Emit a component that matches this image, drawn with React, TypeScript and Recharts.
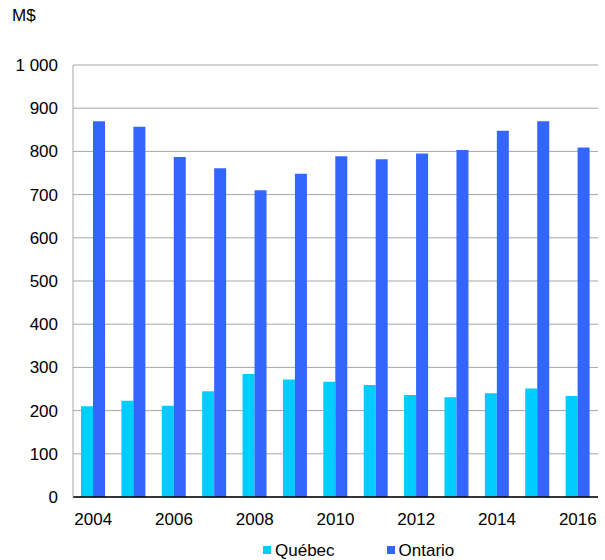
import React from "react";
import { BarChart, Bar, XAxis, YAxis, CartesianGrid, Legend } from "recharts";

const years = ["2004", "2005", "2006", "2007", "2008", "2009", "2010", "2011", "2012", "2013", "2014", "2015", "2016"];
const quebec = [210, 223, 211, 245, 285, 272, 267, 259, 236, 231, 240, 251, 234];
const ontario = [870, 857, 787, 761, 710, 748, 789, 782, 795, 803, 848, 870, 809];
const yTicks = [0, 100, 200, 300, 400, 500, 600, 700, 800, 900, 1000];

const series = [
    { key: "quebec", name: "Québec", color: "#00CCFF" },
    { key: "ontario", name: "Ontario", color: "#3366FF" },
];

const data = years.map((year, i) => ({ year, quebec: quebec[i], ontario: ontario[i] }));

const FONT = "'Liberation Sans', Arial, sans-serif";

const fmt = (v: number) => (v >= 1000 ? `${Math.floor(v / 1000)}\u00a0${String(v % 1000).padStart(3, "0")}` : String(v));

const LegendContent = () => (
    <div style={{ height: 33, paddingTop: 13, boxSizing: "border-box", display: "flex", alignItems: "center", fontFamily: FONT, fontSize: 17, lineHeight: "17px", color: "#000" }}>
        {series.map((s, i) => (
            <div key={s.key} style={{ display: "flex", alignItems: "center", marginLeft: i === 0 ? 263 : 52 }}>
                <span style={{ width: 8, height: 8, background: s.color, display: "inline-block", marginRight: 4 }} />
                <span>{s.name}</span>
            </div>
        ))}
    </div>
);

export default function App() {
    return (
        <div style={{ position: "absolute", left: 0, top: 0, width: 605, height: 560, background: "#fff" }}>
            <div style={{ position: "absolute", left: 12, top: 6, fontFamily: FONT, fontSize: 17, color: "#000" }}>M$</div>
            <BarChart width={605} height={560} data={data} margin={{ top: 65, right: 7, left: 0, bottom: 0 }} barGap={0} barSize={12}>
                <CartesianGrid vertical={false} stroke="#A6A6A6" strokeWidth={1} />
                <XAxis
                    dataKey="year"
                    interval={1}
                    height={30}
                    tickLine={false}
                    tickMargin={10}
                    axisLine={{ stroke: "#000", strokeWidth: 1.5 }}
                    tick={{ fill: "#000", fontSize: 17, fontFamily: FONT }}
                />
                <YAxis
                    width={73}
                    domain={[0, 1000]}
                    ticks={yTicks}
                    interval={0}
                    tickLine={false}
                    tickMargin={9}
                    tickFormatter={fmt}
                    axisLine={{ stroke: "#A6A6A6" }}
                    tick={{ fill: "#000", fontSize: 17, fontFamily: FONT }}
                />
                <YAxis yAxisId="border" orientation="right" width={0} domain={[0, 1000]} tick={false} tickLine={false} axisLine={{ stroke: "#D4D4D4", strokeWidth: 2 }} />
                <Legend verticalAlign="bottom" content={<LegendContent />} wrapperStyle={{ left: 0, width: 605 }} />
                {series.map((s) => (
                    <Bar key={s.key} dataKey={s.key} name={s.name} fill={s.color} isAnimationActive={false} />
                ))}
            </BarChart>
        </div>
    );
}
